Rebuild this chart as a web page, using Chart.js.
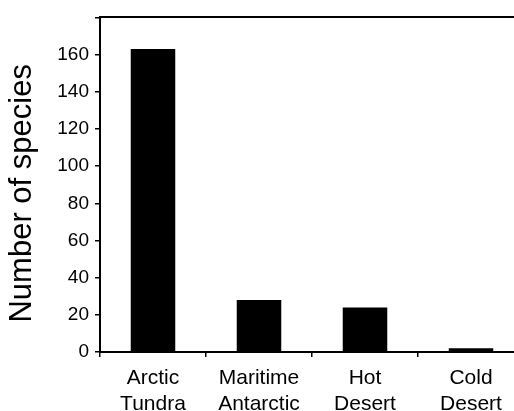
<!DOCTYPE html>
<html>
<head>
<meta charset="utf-8">
<script src="https://cdn.jsdelivr.net/npm/chart.js@4/dist/chart.umd.min.js"></script>
<style>
  html, body { margin: 0; padding: 0; background: #fff; overflow: hidden; }
  #wrap { position: absolute; left: 0; top: 0; width: 530px; height: 420px; }
</style>
</head>
<body>
<div id="wrap"><canvas id="species-chart"></canvas></div>
<script>
// habitats along the x axis, split over two lines
const habitats = [
    ["Arctic", "Tundra"],
    ["Maritime", "Antarctic"],
    ["Hot", "Desert"],
    ["Cold", "Desert"],
];
const speciesCount = [163, 28, 24, 2];

const yMin = 0;
const yMax = 180;
const yStep = 20;

Chart.defaults.font.family = "'Liberation Sans', Arial, Helvetica, sans-serif";
Chart.defaults.color = "#000";

const element = document.getElementById("species-chart");

const config = {
    type: "bar",
    data: {
        labels: habitats,
        datasets: [
            {
                label: "Number of species",
                data: speciesCount,
                backgroundColor: "#000",
                borderWidth: 0,
                categoryPercentage: 1,
                barPercentage: 0.42,
            },
        ],
    },
    options: {
        responsive: true,
        maintainAspectRatio: false,
        animation: false,
        layout: {
            padding: { top: 13, right: 6, bottom: 4, left: 0 },
        },
        plugins: {
            legend: { display: false },
            tooltip: { enabled: false },
        },
        scales: {
            x: {
                position: "bottom",
                offset: true,
                grid: {
                    display: true,
                    offset: true,
                    drawOnChartArea: false,
                    drawTicks: true,
                    tickLength: 5,
                    color: "#000",
                    lineWidth: 1.5,
                },
                border: { display: true, color: "#000", width: 2 },
                ticks: {
                    padding: 9,
                    maxRotation: 0,
                    autoSkip: false,
                    font: { size: 21, lineHeight: 1.2 },
                },
                afterFit: (scale) => { scale.height = 64; },
            },
            // top edge of the frame
            x2: {
                position: "top",
                offset: true,
                grid: { display: false, drawTicks: false },
                border: { display: true, color: "#000", width: 2 },
                ticks: { display: false },
                afterFit: (scale) => { scale.height = 0; },
            },
            y: {
                min: yMin,
                max: yMax,
                grid: {
                    drawOnChartArea: false,
                    drawTicks: true,
                    tickLength: 5,
                    color: "#000",
                    lineWidth: 1.5,
                },
                border: { display: true, color: "#000", width: 2 },
                ticks: {
                    stepSize: yStep,
                    padding: 6,
                    font: { size: 19 },
                    callback: (v) => (v === yMax ? "" : v),
                },
                title: {
                    display: true,
                    // trailing spaces nudge the title a little lower, as in the original
                    text: "Number of species  ",
                    font: { size: 31 },
                    padding: { top: 4, bottom: 0 },
                },
                afterFit: (scale) => { scale.width = 100; },
            },
        },
    },
};

new Chart(element, config);
</script>
</body>
</html>
